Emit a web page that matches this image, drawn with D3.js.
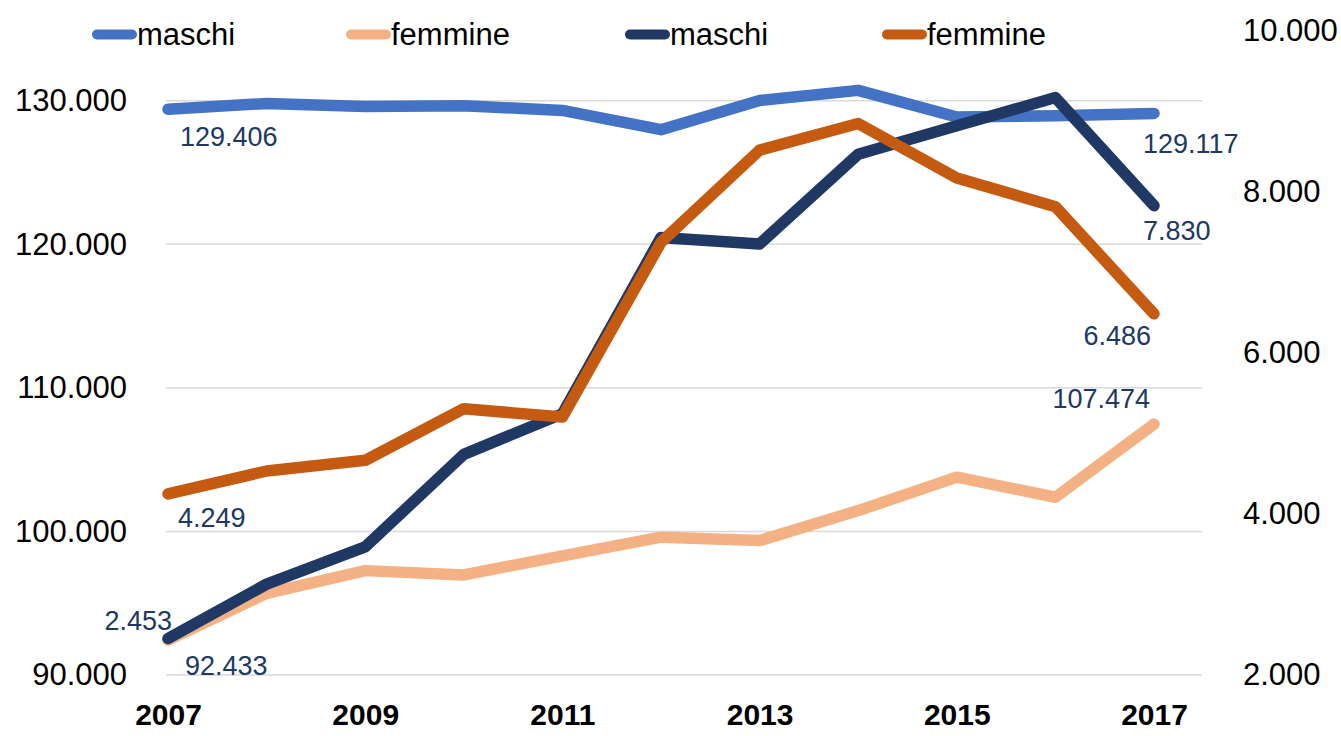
<html>
  <head>
    <title>maschi / femmine 2007-2017</title>
    <script src="https://cdn.jsdelivr.net/npm/d3@7"></script>
    <style>
      body{margin:0;background:#fff;}
      text{font-family:"Liberation Sans",Arial,sans-serif;}
    </style>
  </head>
  <body>
    <script>
      // dati
      var anni=[2007,2008,2009,2010,2011,2012,2013,2014,2015,2016,2017];
      var maschiSx=[129406,129810,129600,129650,129320,127980,130020,130720,128860,128950,129117];
      var femmineSx=[92433,95690,97270,96970,98300,99600,99360,101450,103780,102380,107474];
      var maschiDx=[2453,3129,3591,4741,5246,7436,7354,8470,8822,9173,7830];
      var femmineDx=[4249,4534,4667,5308,5204,7375,8520,8851,8173,7817,6486];
      var ticksSx=[90000,100000,110000,120000,130000];
      var ticksDx=[2000,4000,6000,8000,10000];
      var ticksX=[2007,2009,2011,2013,2015,2017];
      var nomi=["maschi","femmine","maschi","femmine"];

      var colori=["#4472C4","#F4B183","#203864","#C55A11"];
      var labelCol="#203864";

      var W=1341,H=736;
      var left=166,right=1202;

      var it=d3.formatLocale({decimal:",",thousands:".",grouping:[3],currency:["€",""]});
      var fmt=it.format(",d");

      var x=d3.scaleLinear().domain([2007,2017]).range([168,1154]);
      var ySx=d3.scaleLinear().domain([90000,130000]).range([675,100.7]);
      var yDx=d3.scaleLinear().domain([2000,10000]).range([675,31]);

      var svg=d3.select('body').append('svg')
                .attr('width',W)
                .attr('height',H);

      // griglia (asse sinistro)
      svg.append('g').selectAll('line').data(ticksSx).enter().append('line')
         .attr('x1',left).attr('x2',right)
         .attr('y1',function(d){return ySx(d);})
         .attr('y2',function(d){return ySx(d);})
         .attr('stroke','#D9D9D9')
         .attr('stroke-width',1.5);

      // assi
      var axSx=svg.append('g').attr('transform','translate(127,0)')
                  .call(d3.axisLeft(ySx).tickValues(ticksSx).tickFormat(fmt).tickSize(0).tickPadding(0));
      var axDx=svg.append('g').attr('transform','translate(1243,0)')
                  .call(d3.axisRight(yDx).tickValues(ticksDx).tickFormat(fmt).tickSize(0).tickPadding(0));
      var axX=svg.append('g').attr('transform','translate(0,702)')
                 .call(d3.axisBottom(x).tickValues(ticksX).tickFormat(d3.format('d')).tickSize(0).tickPadding(0));

      [axSx,axDx,axX].forEach(function(a){
        a.select('.domain').remove();
        a.selectAll('text')
         .style('font-family','"Liberation Sans",Arial,sans-serif')
         .attr('fill','#000');
      });
      axSx.selectAll('text').style('font-size','31px');
      axDx.selectAll('text').style('font-size','31px');
      axX.selectAll('text').style('font-size','30px').style('font-weight','bold').attr('dy','0.75em');

      // linee
      var serie=[
        {v:maschiSx,y:ySx},
        {v:femmineSx,y:ySx},
        {v:maschiDx,y:yDx},
        {v:femmineDx,y:yDx}
      ];

      for(var s=0;s<serie.length;s++)
      {
        var sc=serie[s].y;
        var line=d3.line()
                   .x(function(d,i){return x(anni[i]);})
                   .y(function(d){return sc(d);});
        svg.append('path')
           .attr('d',line(serie[s].v))
           .attr('fill','none')
           .attr('stroke',colori[s])
           .attr('stroke-width',11.5)
           .attr('stroke-linejoin','round')
           .attr('stroke-linecap','round');
      }

      // etichette primo/ultimo valore: [serie, indice, dx, dy, ancora]
      var etichette=[
        [0,0,12,27,'start'],
        [0,10,-11,30,'start'],
        [1,0,17,25,'start'],
        [1,10,-4,-26,'end'],
        [2,0,4,-18,'end'],
        [2,10,-11,25,'start'],
        [3,0,10,24,'start'],
        [3,10,-3,22,'end']
      ];

      for(var k=0;k<etichette.length;k++)
      {
        var e=etichette[k];
        var val=serie[e[0]].v[e[1]];
        svg.append('text')
           .attr('x',x(anni[e[1]])+e[2])
           .attr('y',serie[e[0]].y(val)+e[3])
           .attr('dy','0.35em')
           .attr('text-anchor',e[4])
           .attr('fill',labelCol)
           .style('font-size','27px')
           .text(fmt(val));
      }

      // legenda
      var legX=[92,346,625,882];
      for(var l=0;l<nomi.length;l++)
      {
        svg.append('line')
           .attr('x1',legX[l]+5).attr('x2',legX[l]+40)
           .attr('y1',34.5).attr('y2',34.5)
           .attr('stroke',colori[l])
           .attr('stroke-width',10)
           .attr('stroke-linecap','round');
        svg.append('text')
           .attr('x',legX[l]+45)
           .attr('y',45)
           .attr('fill','#000')
           .style('font-size','31px')
           .text(nomi[l]);
      }
    </script>
  </body>
</html>
